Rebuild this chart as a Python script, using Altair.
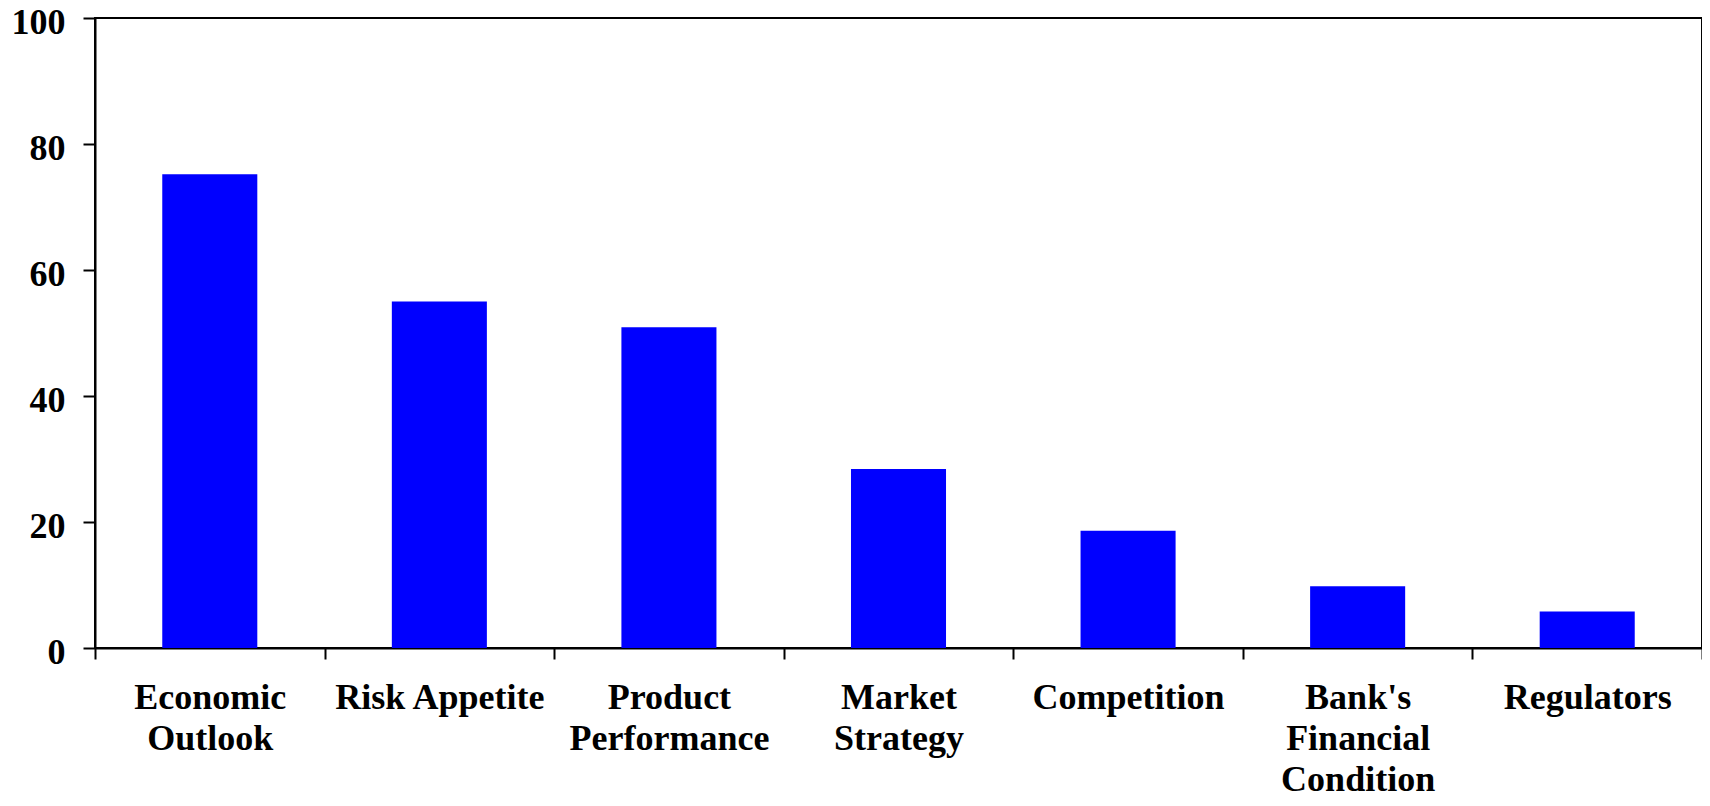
import altair as alt
import pandas as pd

categories = ["Economic Outlook", "Risk Appetite", "Product Performance",
              "Market Strategy", "Competition", "Bank's Financial Condition",
              "Regulators"]
values = [75.2, 55.0, 50.9, 28.4, 18.6, 9.8, 5.8]
y_ticks = [0, 20, 40, 60, 80, 100]

df = pd.DataFrame({"category": categories, "value": values})

FONT = "Liberation Serif"

chart = alt.Chart(df).mark_bar(color="#0000FF", width=alt.RelativeBandSize(0.414)).encode(
    x=alt.X("category:N", sort=categories, title=None,
            scale=alt.Scale(paddingInner=0, paddingOuter=0),
            axis=alt.Axis(labelAngle=0, tickBand="extent", tickSize=11,
                          tickWidth=2, tickColor="black", domainColor="black",
                          domainWidth=2, labelFont=FONT, labelFontSize=36,
                          labelFontWeight="bold", labelColor="black",
                          labelPadding=21, labelLineHeight=41,
                          labelBaseline="top", labelLimit=400,
                          labelExpr="datum.label == 'Risk Appetite' ? datum.label : split(datum.label, ' ')")),
    y=alt.Y("value:Q", title=None,
            scale=alt.Scale(domain=[0, 100], nice=False),
            axis=alt.Axis(values=y_ticks, grid=False, tickSize=12, tickWidth=2,
                          tickColor="black", domainColor="black", domainWidth=2,
                          labelFont=FONT, labelFontSize=36, labelFontWeight="bold",
                          labelColor="black", labelPadding=18, labelOffset=4)),
).properties(
    width=1607, height=630,
    autosize=alt.AutoSizeParams(type="none"),
    padding={"left": 87, "top": 10, "right": 0, "bottom": 150},
).configure_view(stroke="black", strokeWidth=2)

chart.save("out.html", embed_options={"renderer": "svg", "actions": False})
